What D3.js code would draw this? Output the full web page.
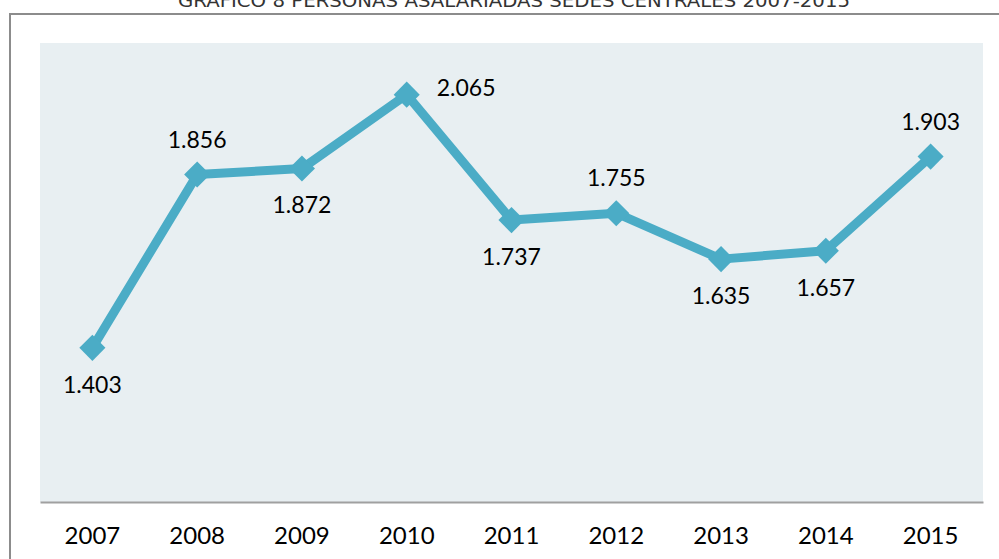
<!DOCTYPE html>
<html>
<head>
<meta charset="utf-8">
<script src="https://cdn.jsdelivr.net/npm/d3@7"></script>
<style>
  body { margin: 0; background: #fff; }
  svg { display: block; }
</style>
</head>
<body>
<div id="chart"></div>
<script>
// data
const years = ['2007', '2008', '2009', '2010', '2011', '2012', '2013', '2014', '2015'];
const asalariados = [1403, 1856, 1872, 2065, 1737, 1755, 1635, 1657, 1903];
const labelPos = ['below', 'above', 'below', 'right', 'below', 'above', 'below', 'below', 'above'];
const title = 'GRÁFICO 8 PERSONAS ASALARIADAS SEDES CENTRALES 2007-2015';

const width = 999, height = 559;
const plot = { left: 40, right: 983, top: 43, bottom: 502 };

const svg = d3.select('#chart').append('svg')
    .attr('width', width)
    .attr('height', height);

// outer frame (only top and left visible in the crop)
svg.append('path')
    .attr('d', `M10,${height} V14 H${width}`)
    .attr('fill', 'none')
    .attr('stroke', '#8c8c8c')
    .attr('stroke-width', 2);

svg.append('text')
    .attr('x', 514)
    .attr('y', 7)
    .attr('text-anchor', 'middle')
    .attr('textLength', 672)
    .attr('lengthAdjust', 'spacingAndGlyphs')
    .style('font-family', '"DejaVu Sans", sans-serif')
    .style('font-size', '17px')
    .attr('fill', '#333')
    .text(title);

svg.append('rect')
    .attr('x', plot.left)
    .attr('y', plot.top)
    .attr('width', plot.right - plot.left)
    .attr('height', plot.bottom - plot.top)
    .attr('fill', '#e8eff2');

const x = d3.scaleBand()
    .domain(years)
    .range([plot.left, plot.right])
    .padding(0);

const y = d3.scaleLinear()
    .domain([1000, 2200])
    .range([plot.bottom, plot.top]);

const xAxis = d3.axisBottom(x)
    .tickSize(0)
    .tickPadding(25);

const xAxisGroup = svg.append('g')
    .attr('transform', `translate(0, ${plot.bottom})`)
    .call(xAxis);

xAxisGroup.select('.domain')
    .attr('stroke', '#a0a0a0')
    .attr('stroke-width', 2);

xAxisGroup.selectAll('text')
    .attr('fill', '#000')
    .style('font-family', 'Lato, "Open Sans", sans-serif')
    .style('font-size', '24px');

const data = years.map((yr, i) => ({ year: yr, value: asalariados[i], pos: labelPos[i] }));
const cx = d => x(d.year) + x.bandwidth() / 2;

const line = d3.line()
    .x(cx)
    .y(d => y(d.value))
    .curve(d3.curveLinear);

svg.append('path')
    .datum(data)
    .attr('fill', 'none')
    .attr('stroke', '#4bacc6')
    .attr('stroke-width', 9)
    .attr('stroke-linejoin', 'round')
    .attr('d', line);

const diamond = d3.symbol().type(d3.symbolSquare).size(340);

svg.selectAll('.marker')
    .data(data)
    .join('path')
    .attr('class', 'marker')
    .attr('d', diamond)
    .attr('transform', d => `translate(${cx(d)},${y(d.value)}) rotate(45)`)
    .attr('fill', '#4bacc6');

const fmt = v => d3.format(',')(v).replace(',', '.');

svg.selectAll('.value-label')
    .data(data)
    .join('text')
    .attr('class', 'value-label')
    .attr('x', d => d.pos === 'right' ? cx(d) + 30 : cx(d))
    .attr('y', d => {
        if (d.pos === 'above') return y(d.value) - 27;
        if (d.pos === 'below') return y(d.value) + 45;
        return y(d.value) + 1;
    })
    .attr('text-anchor', d => d.pos === 'right' ? 'start' : 'middle')
    .attr('fill', '#000')
    .style('font-family', 'Lato, "Open Sans", sans-serif')
    .style('font-size', '23px')
    .text(d => fmt(d.value));
</script>
</body>
</html>
